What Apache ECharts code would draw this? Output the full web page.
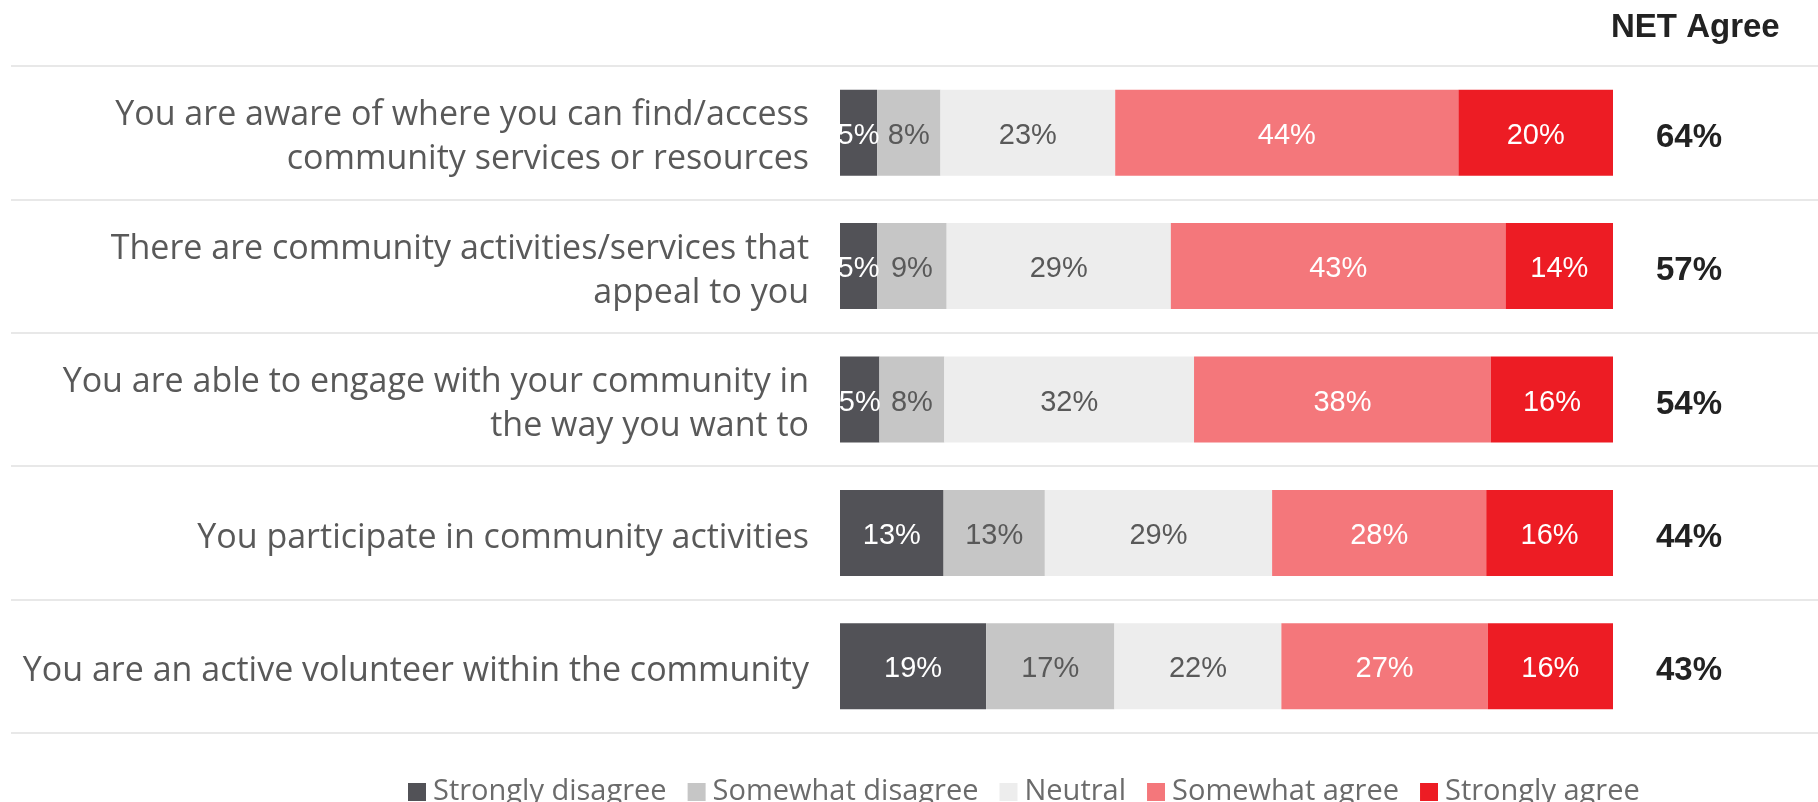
<!DOCTYPE html>
<html>
<head>
<meta charset="utf-8">
<script src="https://cdn.jsdelivr.net/npm/echarts@6/dist/echarts.min.js"></script>
<style>
html,body{margin:0;padding:0;background:#fff;}
#chart{width:1818px;height:802px;}
</style>
</head>
<body>
<div id="chart"></div>
<script>
const categories = [
  "You are aware of where you can find/access\ncommunity services or resources",
  "There are community activities/services that\nappeal to you",
  "You are able to engage with your community in\nthe way you want to",
  "You participate in community activities",
  "You are an active volunteer within the community"
];
const seriesNames = ["Strongly disagree", "Somewhat disagree", "Neutral", "Somewhat agree", "Strongly agree"];
const stronglyDisagree = [4.8, 4.8, 5.1, 13.4, 18.9];
const somewhatDisagree = [8.2, 9.0, 8.4, 13.1, 16.6];
const neutral          = [22.6, 29.0, 32.3, 29.4, 21.6];
const somewhatAgree    = [44.4, 43.3, 38.4, 27.7, 26.7];
const stronglyAgree    = [20.0, 13.9, 15.8, 16.4, 16.2];
const netAgree = [64, 57, 54, 44, 43];

const colors = ["#525257", "#c6c6c6", "#ededed", "#f4777b", "#ed1c24"];
const labelColors = ["#ffffff", "#595959", "#595959", "#ffffff", "#ffffff"];
const values = [stronglyDisagree, somewhatDisagree, neutral, somewhatAgree, stronglyAgree];

const chart = echarts.init(document.getElementById('chart'), null, {renderer: 'canvas'});

const series = seriesNames.map((name, i) => ({
  name: name,
  type: 'bar',
  stack: 'total',
  xAxisIndex: 0,
  yAxisIndex: 0,
  barWidth: 86,
  data: values[i],
  itemStyle: {color: colors[i]},
  label: {
    show: true,
    position: 'inside',
    offset: [0, 3],
    formatter: p => Math.round(p.value) + '%',
    color: labelColors[i],
    fontFamily: 'Liberation Sans',
    fontSize: 29
  },
  emphasis: {disabled: true}
}));

const option = {
  animation: false,
  backgroundColor: '#ffffff',
  title: {
    text: 'NET Agree',
    left: 1606,
    top: 6,
    textStyle: {fontFamily: 'Liberation Sans', fontSize: 33, fontWeight: 'bold', color: '#222222'}
  },
  legend: {
    data: seriesNames,
    left: 403,
    top: 771,
    icon: 'rect',
    itemWidth: 18,
    itemHeight: 18,
    itemGap: 21,
    textStyle: {fontFamily: 'Open Sans', fontSize: 29, color: '#6b6b6b', lineHeight: 32, padding: [0, 0, 0, 2]},
    selectedMode: false
  },
  grid: [
    {left: 840, right: 205, top: 66, height: 667, containLabel: false},
    {left: 11, right: 0, top: 66, height: 667, containLabel: false},
    {left: 840, right: 205, top: 71, height: 667, containLabel: false}
  ],
  xAxis: [
    {type: 'value', gridIndex: 0, min: 0, max: 100, show: false},
    {type: 'value', gridIndex: 1, min: 0, max: 1, show: false},
    {type: 'value', gridIndex: 2, min: 0, max: 1, show: false}
  ],
  yAxis: [
    {
      type: 'category', gridIndex: 0, inverse: true, data: categories,
      axisLine: {show: false}, axisTick: {show: false}, splitLine: {show: false},
      axisLabel: {show: false}
    },
    {
      type: 'category', gridIndex: 1, inverse: true, data: categories,
      axisLine: {show: false}, axisTick: {show: false}, axisLabel: {show: false},
      splitLine: {show: true, lineStyle: {color: '#e8e8e8', width: 2}}
    },
    {
      type: 'category', gridIndex: 2, inverse: true, data: categories, position: 'left',
      axisLine: {show: false}, axisTick: {show: false}, splitLine: {show: false},
      axisLabel: {
        margin: 31, align: 'right', fontFamily: 'Open Sans', fontSize: 34,
        lineHeight: 44, color: '#595959'
      }
    },
    {
      type: 'category', gridIndex: 2, inverse: true, position: 'right',
      data: netAgree.map(v => v + '%'),
      axisLine: {show: false}, axisTick: {show: false}, splitLine: {show: false},
      axisLabel: {
        margin: 43, align: 'left', fontFamily: 'Liberation Sans', fontSize: 33,
        fontWeight: 'bold', color: '#222222'
      }
    }
  ],
  series: series
};
chart.setOption(option);
</script>
</body>
</html>
